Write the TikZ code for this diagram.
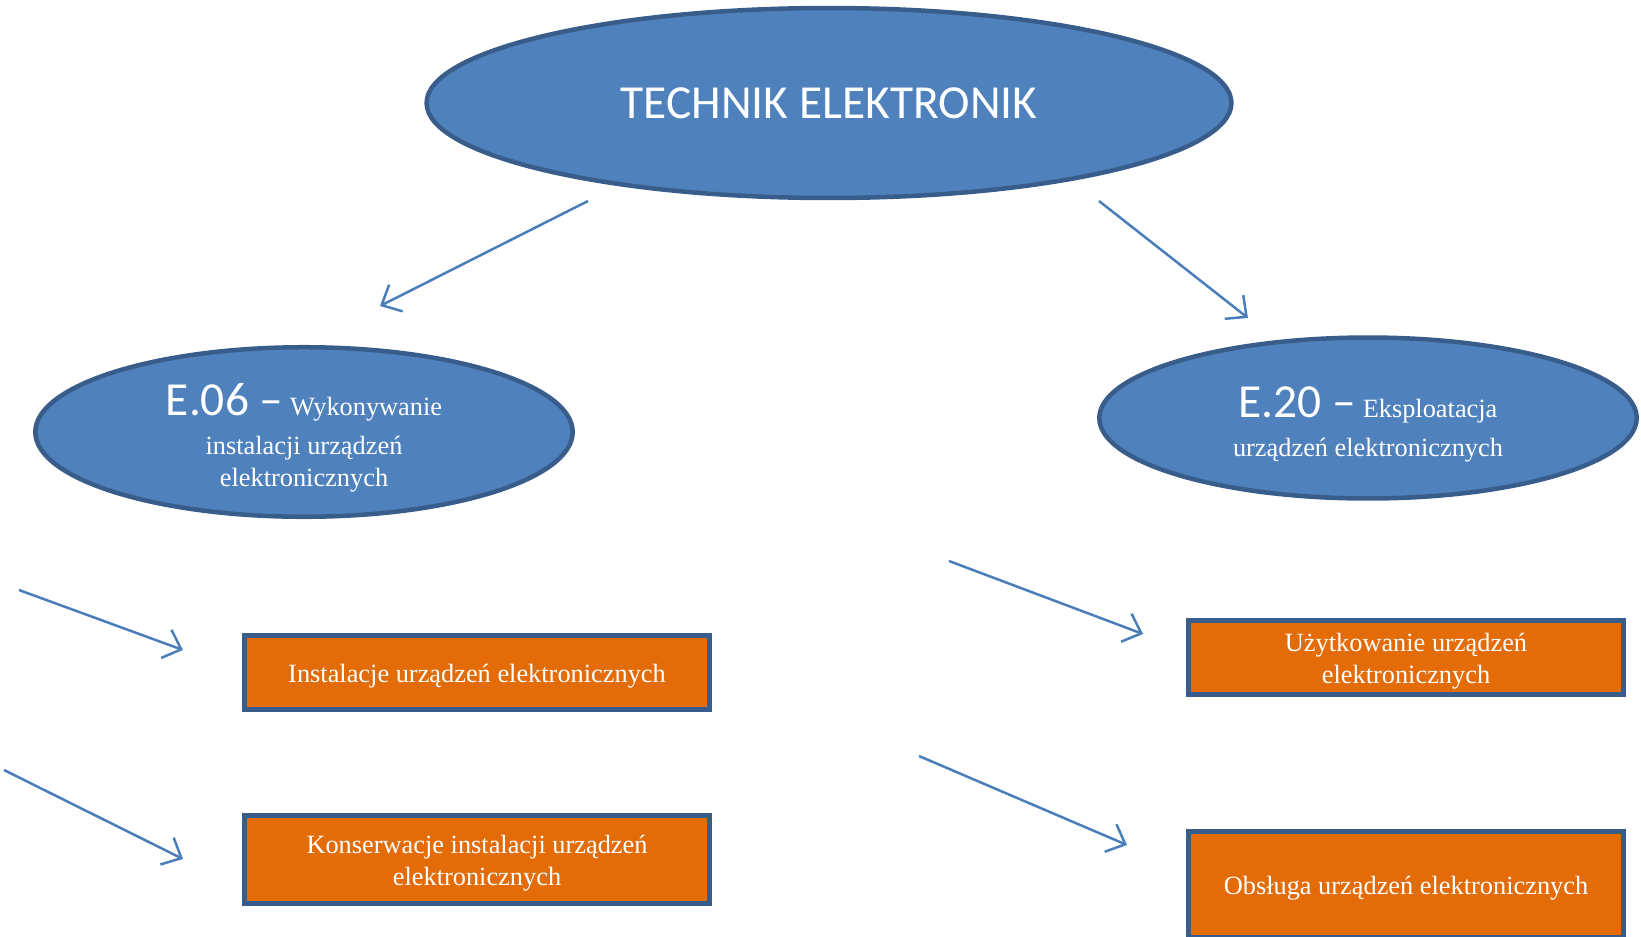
\documentclass[tikz,border=0pt]{standalone}
\usepackage{fontspec}
\setmainfont{Liberation Serif}
\newfontfamily\calibrifont{Carlito}
\usetikzlibrary{shapes.geometric,arrows.meta}

\definecolor{ovalblue}{HTML}{4F81BD}
\definecolor{ovalline}{HTML}{385D8A}
\definecolor{taskorange}{HTML}{E36C09}
\definecolor{arrowblue}{HTML}{4A7EBB}

\newcommand{\bigcode}[1]{{\calibrifont\fontsize{27}{30}\selectfont #1}}
\newcommand{\topgap}[1]{\rule{0pt}{#1}}

\begin{document}
\begin{tikzpicture}[x=0.02cm,y=-0.02cm,
  oval/.style={ellipse,draw=ovalline,fill=ovalblue,line width=0.09cm,inner sep=0pt,
               text=white,align=center,font=\fontsize{15}{18}\selectfont},
  task/.style={rectangle,draw=ovalline,fill=taskorange,line width=0.1cm,inner sep=0pt,
               text=white,align=center,font=\fontsize{15}{18}\selectfont},
  link/.style={arrowblue,line width=0.05cm,-{Straight Barb[length=0.32cm,width=0.6cm]}}]
\useasboundingbox (0,0) rectangle (1641,937);
%\draw[step=100,gray,very thin] (0,0) grid (1641,937); %help grid

\node[oval,minimum width=16.1cm,minimum height=3.8cm] (technik) at (829,103)
  {\calibrifont\fontsize{27}{30}\selectfont TECHNIK ELEKTRONIK};

%--------------------------------------------------------

\node[oval,minimum width=10.75cm,minimum height=3.22cm] (e06) at (304,432)
  {\topgap{25pt}\bigcode{E.06 –} Wykonywanie\\[4pt] instalacji urządzeń\\ elektronicznych};
\node[oval,minimum width=10.75cm,minimum height=3.22cm] (e20) at (1368,418)
  {\topgap{25pt}\bigcode{E.20 –} Eksploatacja\\[4pt] urządzeń elektronicznych};

%--------------------------------------------------------

\node[task,minimum width=9.3cm,minimum height=1.48cm] (instal) at (477,672)
  {\topgap{15pt}Instalacje urządzeń elektronicznych};
\node[task,minimum width=9.3cm,minimum height=1.76cm] (konserw) at (477,859)
  {\topgap{15pt}Konserwacje instalacji urządzeń\\ elektronicznych};
\node[task,minimum width=8.7cm,minimum height=1.48cm] (uzytk) at (1406,657)
  {\topgap{15pt}Użytkowanie urządzeń\\ elektronicznych};
\node[task,minimum width=8.7cm,minimum height=2.12cm] (obsl) at (1406,884)
  {\topgap{15pt}Obsługa urządzeń elektronicznych};

%--------------------------------------------------------

\coordinate (t1) at (588,201);  \coordinate (t1e) at (380,306);
\coordinate (t2) at (1099,201); \coordinate (t2e) at (1248,318);
\coordinate (a1) at (19,590);   \coordinate (a1e) at (183,650);
\coordinate (a2) at (4,770);    \coordinate (a2e) at (183,859);
\coordinate (b1) at (949,561);  \coordinate (b1e) at (1143,634);
\coordinate (b2) at (919,756);  \coordinate (b2e) at (1127,845);

\draw[link] (t1) -- (t1e);
\draw[link] (t2) -- (t2e);
\draw[link] (a1) -- (a1e);
\draw[link] (a2) -- (a2e);
\draw[link] (b1) -- (b1e);
\draw[link] (b2) -- (b2e);
\end{tikzpicture}
\end{document}
